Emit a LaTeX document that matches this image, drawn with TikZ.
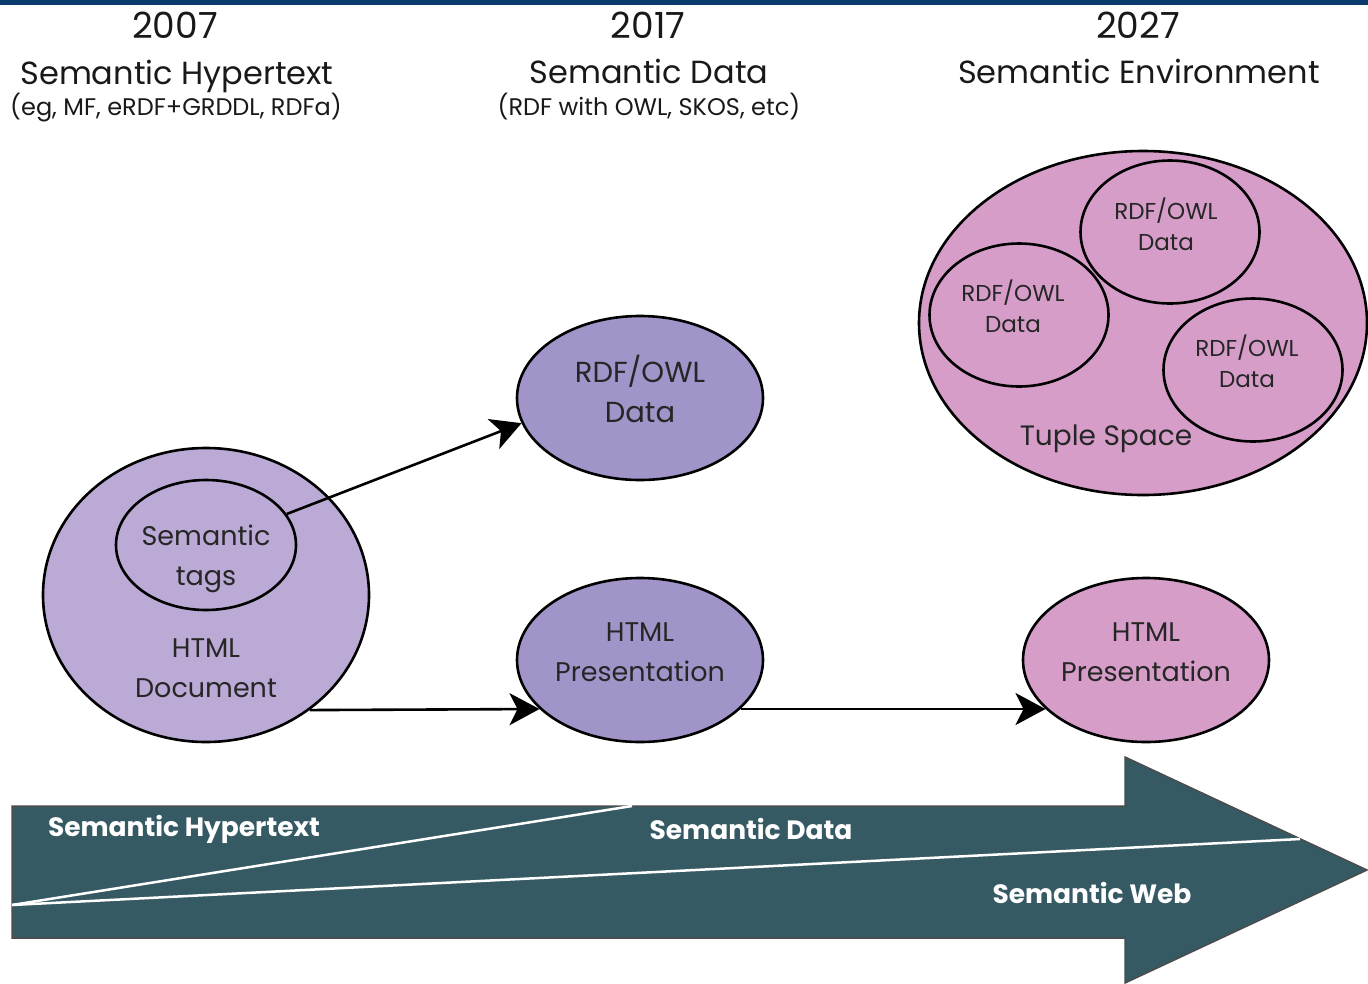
\documentclass[tikz,border=0pt]{standalone}
\usepackage{fontspec}
\setmainfont{Poppins}
\usepackage{tikz}
\usetikzlibrary{shapes.geometric, arrows.meta, positioning, calc}
\definecolor{topbar}{HTML}{0B3A6E}
\definecolor{docfill}{HTML}{BAAAD5}
\definecolor{datafill}{HTML}{A194C9}
\definecolor{envfill}{HTML}{D59DC8}
\definecolor{timeline}{HTML}{355A64}
\tikzstyle{blob} = [ellipse, draw=black, line width=2.6pt, inner sep=0pt]
\tikzstyle{label} = [align=center, text=black!85, font=\fontsize{27}{40}\selectfont]
\tikzstyle{small} = [align=center, text=black!85, font=\fontsize{23}{31}\selectfont]
\tikzstyle{arrow} = [line width=2.6pt, -{Stealth[length=30pt, width=32pt, inset=8pt]}]
\tikzstyle{year} = [font=\fontsize{36}{40}\selectfont, text=black!90]
\tikzstyle{era} = [font=\fontsize{32}{36}\selectfont, text=black!90]
\tikzstyle{note} = [font=\fontsize{24}{28}\selectfont, text=black!90]
\tikzstyle{band} = [font=\bfseries\fontsize{26.5}{30}\selectfont, text=white]

\begin{document}
\begin{tikzpicture}[x=1pt, y=-1pt]
    \useasboundingbox (0,0) rectangle (1368,983);
    \fill[topbar] (0,0) rectangle (1368,5);

    % Headings
    \node (y1) at (175,25) [year] {2007};
    \node (t1) at (177,76) [era] {Semantic Hypertext};
    \node (s1) at (176,108) [note] {(eg, MF, eRDF+GRDDL, RDFa)};
    \node (y2) at (648,25) [year] {2017};
    \node (t2) at (649,71) [era] {Semantic Data};
    \node (s2) at (649,107) [note] {(RDF with OWL, SKOS, etc)};
    \node (y3) at (1138,25) [year] {2027};
    \node (t3) at (1139,71) [era] {Semantic Environment};

    % 2007
    \node (doc) at (206,595) [blob, fill=docfill, minimum width=326pt, minimum height=294pt] {};
    \node (doctext) at (206,668) [label] {HTML\\Document};
    \node (tags) at (206,545) [blob, fill=docfill, minimum width=180pt, minimum height=130pt] {};
    \node (tagstext) at (206,559) [label] {Semantic\\tags};

    % 2017
    \node (rdf) at (640,398) [blob, fill=datafill, minimum width=246pt, minimum height=164pt] {};
    \node (rdftext) at (640,389) [label, font=\fontsize{29}{40}\selectfont] {RDF/OWL\\Data};
    \node (pres) at (640,660) [blob, fill=datafill, minimum width=246pt, minimum height=164pt] {};
    \node (prestext) at (640,652) [label] {HTML\\Presentation};

    % 2027
    \node (space) at (1143,323) [blob, fill=envfill, minimum width=448pt, minimum height=344pt] {};
    \node (rdfa) at (1170,232) [blob, fill=envfill, minimum width=179pt, minimum height=143pt] {};
    \node (rdfatext) at (1166,224) [small] {RDF/OWL\\Data};
    \node (rdfb) at (1019,315) [blob, fill=envfill, minimum width=179pt, minimum height=143pt] {};
    \node (rdfbtext) at (1013,306) [small] {RDF/OWL\\Data};
    \node (rdfc) at (1253,370) [blob, fill=envfill, minimum width=179pt, minimum height=143pt] {};
    \node (rdfctext) at (1247,361) [small] {RDF/OWL\\Data};
    \node (spacetext) at (1106,439) [label, font=\fontsize{28}{30}\selectfont] {Tuple Space};
    \node (pres2) at (1146,660) [blob, fill=envfill, minimum width=246pt, minimum height=164pt] {};
    \node (pres2text) at (1146,652) [label] {HTML\\Presentation};

    % Flows
    \draw [arrow] (tags.21) -- (rdf.192);
    \draw [arrow] (doc.-48) -- (pres.206);
    \draw [arrow] (pres.-26) -- (pres2.206);

    % Timeline
    \draw [fill=timeline, draw=black!70, line width=1.5pt] (12,806) -- (1125,806) -- (1125,757) -- (1367,870) -- (1125,983) -- (1125,938) -- (12,938) -- cycle;
    \coordinate (origin) at (12,905);
    \draw [white, line width=2.5pt] (origin) -- (632,806);
    \draw [white, line width=2.5pt] (origin) -- (1300,839);
    \node (band1) at (184,829) [band] {Semantic Hypertext};
    \node (band2) at (751,829) [band] {Semantic Data};
    \node (band3) at (1092,893) [band] {Semantic Web};
\end{tikzpicture}
\end{document}
